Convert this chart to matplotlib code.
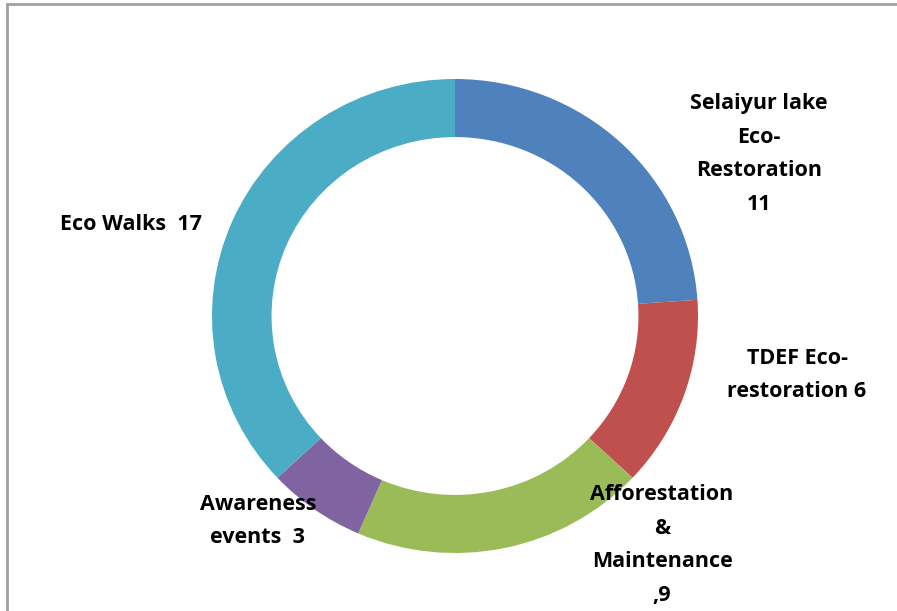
import matplotlib
matplotlib.use("Agg")
import matplotlib.pyplot as plt
from matplotlib.patches import Rectangle

# data
labels = ["Selaiyur lake\nEco-\nRestoration\n11", "TDEF Eco-\nrestoration 6",
          "Afforestation\n&\nMaintenance\n,9", "Awareness\nevents  3", "Eco Walks  17"]
values = [11, 6, 9, 3, 17]
colors = ["#4F81BD", "#C0504D", "#9BBB59", "#8064A2", "#4BACC6"]

# label centres in pixels (x, y from top)
label_px = [(759, 154), (797, 375), (662, 545), (258, 521), (131, 224)]

W, H = 897, 611
fig = plt.figure(figsize=(W / 100, H / 100), dpi=100)
fig.patch.set_facecolor("white")

# grey frame (top and left visible)
fig.patches.append(Rectangle((7 / W, -0.1), 1.2, (H - 4) / H + 0.1,
                             transform=fig.transFigure, fill=False,
                             edgecolor="#a0a0a0", linewidth=2))

cx, cy, rx, ry = 455, 316, 243, 237
ax = fig.add_axes([(cx - rx) / W, (H - cy - ry) / H, 2 * rx / W, 2 * ry / H])
ax.pie(values, colors=colors, startangle=90, counterclock=False, radius=1.0,
       wedgeprops=dict(width=0.245, edgecolor="none"))
ax.set_xlim(-1, 1)
ax.set_ylim(-1, 1)
ax.set_aspect("auto")
ax.axis("off")

for lab, (px, py) in zip(labels, label_px):
    fig.text(px / W, 1 - py / H, lab, ha="center", va="center",
             fontsize=15.5, fontweight="bold", family="Open Sans",
             linespacing=1.8, color="#000000")

fig.savefig("out.png", dpi=100, facecolor="white")
